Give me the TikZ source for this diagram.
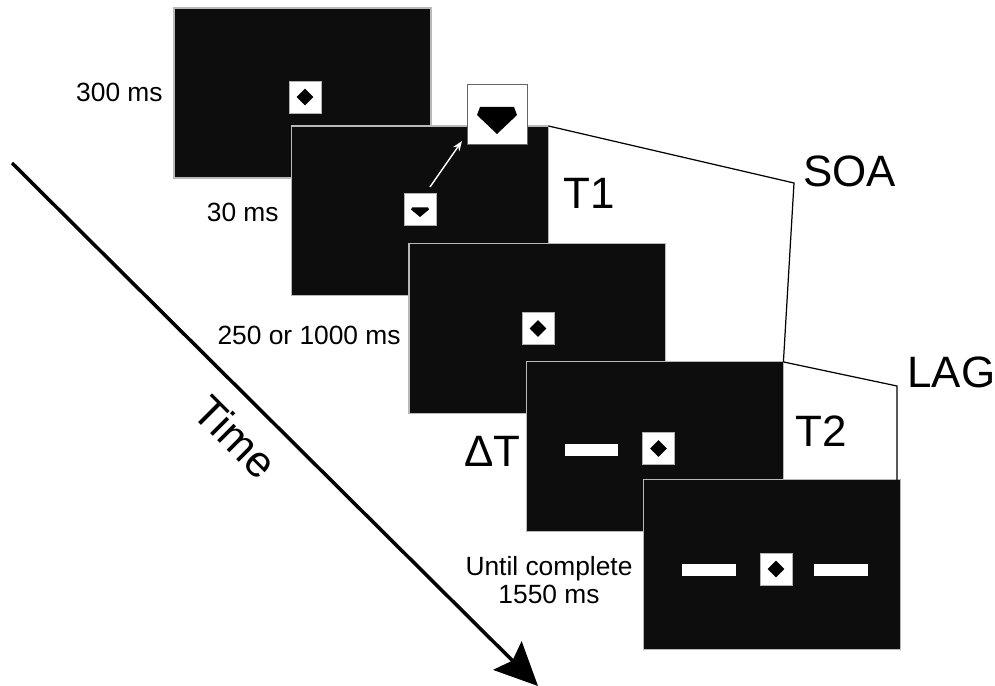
\documentclass[tikz,border=0pt]{standalone}
\usepackage{fontspec}
\setmainfont{Liberation Sans}
\usetikzlibrary{positioning, shapes.geometric, arrows.meta, calc}
\tikzset{screen/.style={draw=gray!55, line width=0.6pt, fill=black!95,
                        minimum width=5.14cm, minimum height=3.4cm,
                        inner sep=0, outer sep=0},
         probe/.style={draw=gray!60, fill=white, minimum size=0.64cm, inner sep=0},
         gemdot/.style={diamond, fill=black, minimum size=0.34cm, inner sep=0},
         bar/.style={fill=white, minimum width=1.08cm, minimum height=0.24cm, inner sep=0},
         dur/.style={font=\fontsize{15}{16}\selectfont, inner sep=0},
         big/.style={font=\fontsize{25}{30}\selectfont, inner sep=0},
         span/.style={line width=0.7pt},
         node distance=2.36cm and 2.35cm,
         }

\begin{document}
\begin{tikzpicture}[x=0.02cm, y=-0.02cm]
    \useasboundingbox (0,0) rectangle (995,686);

    % time axis
    \coordinate (tstart) at (12,163);
    \coordinate (tend) at (538,686);
    \draw[line width=2pt, -{Stealth[length=0.86cm, width=0.8cm, inset=0.14cm]}] (tstart) -- (tend);
    \node[big, rotate=-45] (time) at (236,437) {Time};

    % fixation
    \node[screen] (s1) at (302.5,93) {};
    \node[probe] (p1) at (305,97) {};
    \node[gemdot] at (p1) {};

    % T1
    \node[screen, on grid, below right=of s1] (s2) {};
    \node[probe] (p2) at (420,209.5) {};
    \fill[shift={(p2)}] (-8,-2) -- (8,-2) -- (9,0) -- (0,7.5) -- (-9,0) -- cycle;
    \node[probe, minimum size=1.2cm, draw=gray!80!black] (zoom) at (497,114) {};
    \fill[shift={(zoom)}] (-17,-7) -- (17,-7) -- (20,1) -- (0,20) -- (-20,1) -- cycle;
    \coordinate (zoomfrom) at (430,187);
    \coordinate (zoomto) at (462,141);
    \draw[white, line width=0.8pt, -{Stealth[length=0.2cm, width=0.15cm]}] (zoomfrom) -- (zoomto);

    % blank interval
    \node[screen, on grid, below right=of s2] (s3) {};
    \node[probe] (p3) at (538,328.5) {};
    \node[gemdot] at (p3) {};

    % T2
    \node[screen, on grid, below right=of s3] (s4) {};
    \node[bar] (b4) at (591.5,449.5) {};
    \node[probe] (p4) at (658.5,448.5) {};
    \node[gemdot] at (p4) {};

    % response display
    \node[screen, on grid, below right=of s4] (s5) {};
    \node[bar] (b5l) at (709,569.5) {};
    \node[probe] (p5) at (776,569) {};
    \node[gemdot] at (p5) {};
    \node[bar] (b5r) at (840.5,569.5) {};

    % durations
    \node[dur, anchor=base east] (d1) at (163,102) {300 ms};
    \node[dur, anchor=base east] (d2) at (279,221) {30 ms};
    \node[dur, anchor=base east] (d3) at (401,344) {250 or 1000 ms};
    \node[dur, align=center, anchor=north] (d5) at (549,556) {Until complete\\1550 ms};

    \node[big, anchor=base west] (t1) at (563,209) {T1};
    \node[big, anchor=base west] (t2) at (795,446) {T2};
    \node[big, anchor=base east] (dt) at (521,466) {ΔT};
    \node[big, anchor=base west] (soalabel) at (803,187) {SOA};
    \node[big, anchor=base west] (laglabel) at (907,387) {LAG};

    % SOA and LAG brackets
    \coordinate (soa) at (794,183);
    \coordinate (lag) at (897,386);
    \draw[span] (s2.north east) -- (soa) -- (s4.north east);
    \draw[span] (s4.north east) -- (lag) -- ($(s5.north east)+(-4,0)$);
\end{tikzpicture}
\end{document}
